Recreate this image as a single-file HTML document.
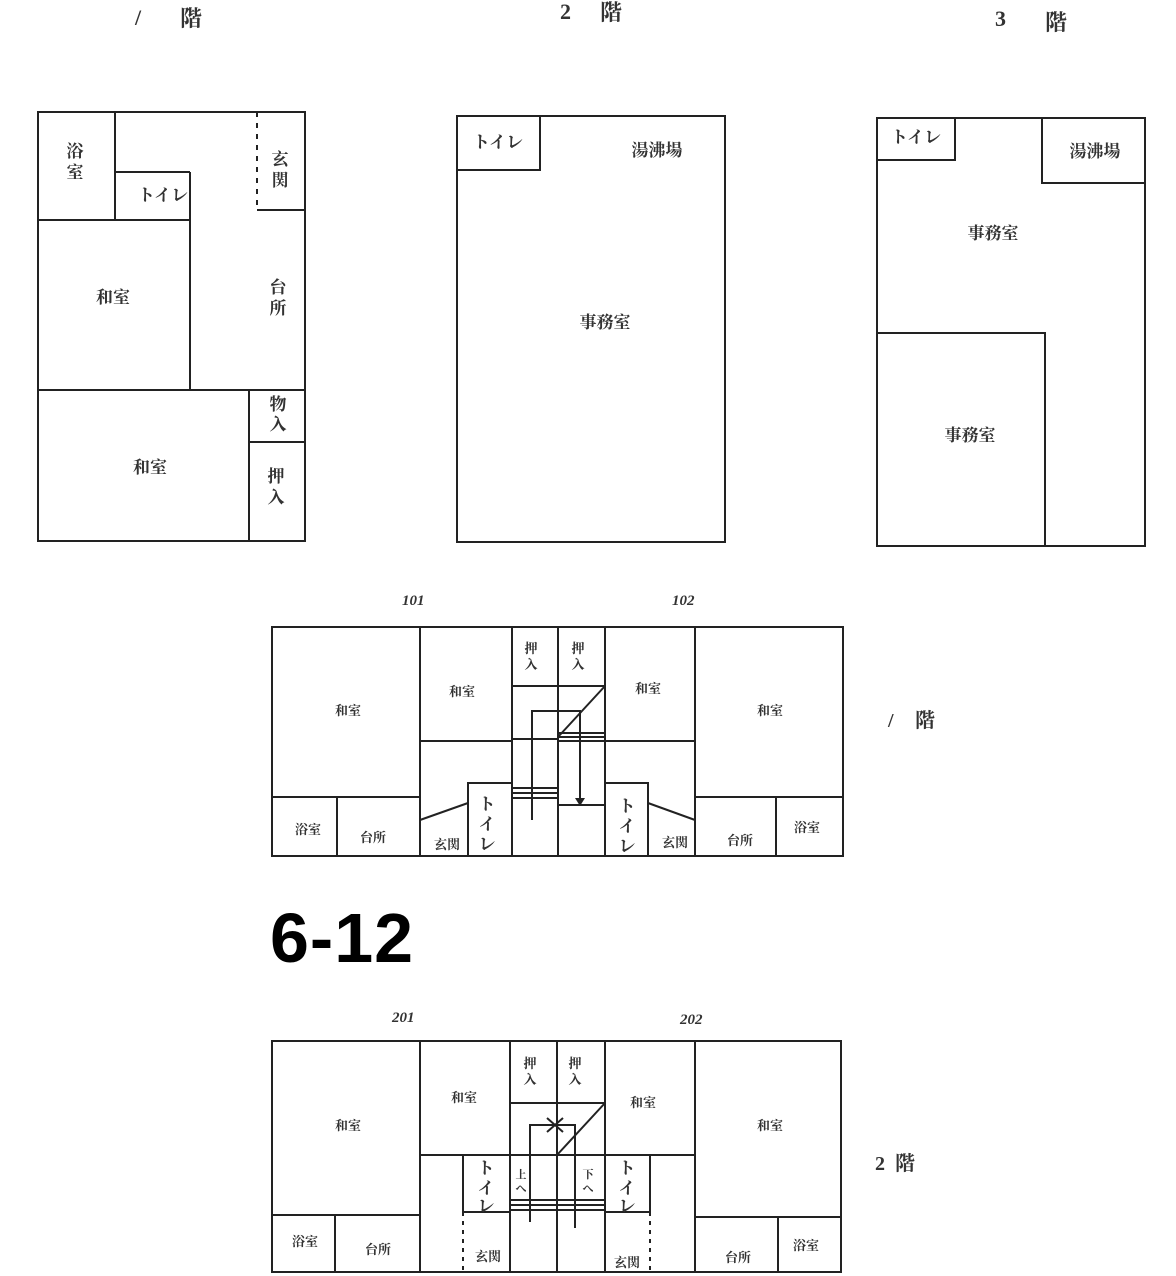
<!DOCTYPE html>
<html><head><meta charset="utf-8"><style>
html,body{margin:0;padding:0;background:#fff}
svg{display:block}
text{font-family:"Liberation Serif","Noto Serif CJK SC","Noto Sans CJK JP",serif;fill:#333;font-weight:bold}
</style></head><body>
<svg width="1176" height="1276" viewBox="0 0 1176 1276" xmlns="http://www.w3.org/2000/svg">
<g stroke="#222" stroke-width="2" fill="none">
<rect x="38" y="112" width="267" height="429"/>
<line x1="115" y1="112" x2="115" y2="220"/>
<line x1="38" y1="220" x2="190" y2="220"/>
<line x1="115" y1="172" x2="190" y2="172"/>
<line x1="190" y1="172" x2="190" y2="390"/>
<line x1="257" y1="112" x2="257" y2="210" stroke-dasharray="5,6"/>
<line x1="257" y1="210" x2="305" y2="210"/>
<line x1="38" y1="390" x2="305" y2="390"/>
<line x1="249" y1="390" x2="249" y2="541"/>
<line x1="249" y1="442" x2="305" y2="442"/>
<rect x="457" y="116" width="268" height="426"/>
<rect x="457" y="116" width="83" height="54"/>
<rect x="877" y="118" width="268" height="428"/>
<rect x="877" y="118" width="78" height="42"/>
<rect x="1042" y="118" width="103" height="65"/>
<polyline points="877,333 1045,333 1045,546"/>
<rect x="272" y="627" width="571" height="229"/>
<line x1="420" y1="627" x2="420" y2="856"/>
<line x1="512" y1="627" x2="512" y2="856"/>
<line x1="558" y1="627" x2="558" y2="856"/>
<line x1="605" y1="627" x2="605" y2="856"/>
<line x1="695" y1="627" x2="695" y2="856"/>
<line x1="272" y1="797" x2="420" y2="797"/>
<line x1="337" y1="797" x2="337" y2="856"/>
<line x1="420" y1="741" x2="512" y2="741"/>
<line x1="512" y1="686" x2="605" y2="686"/>
<line x1="512" y1="739" x2="558" y2="739"/>
<line x1="558" y1="733" x2="605" y2="733"/>
<line x1="558" y1="737" x2="605" y2="737"/>
<line x1="558" y1="741" x2="605" y2="741"/>
<line x1="605" y1="686" x2="558" y2="737"/>
<polyline points="532,820 532,711 580,711 580,800"/>
<line x1="512" y1="788" x2="558" y2="788"/>
<line x1="512" y1="793" x2="558" y2="793"/>
<line x1="512" y1="798" x2="558" y2="798"/>
<line x1="558" y1="805" x2="605" y2="805"/>
<polyline points="468,856 468,783 512,783"/>
<line x1="420" y1="820" x2="468" y2="803"/>
<line x1="605" y1="741" x2="695" y2="741"/>
<polyline points="648,856 648,783 605,783"/>
<line x1="648" y1="803" x2="695" y2="820"/>
<line x1="695" y1="797" x2="843" y2="797"/>
<line x1="776" y1="797" x2="776" y2="856"/>
<rect x="272" y="1041" width="569" height="231"/>
<line x1="420" y1="1041" x2="420" y2="1272"/>
<line x1="510" y1="1041" x2="510" y2="1272"/>
<line x1="557" y1="1041" x2="557" y2="1272"/>
<line x1="605" y1="1041" x2="605" y2="1272"/>
<line x1="695" y1="1041" x2="695" y2="1272"/>
<line x1="272" y1="1215" x2="420" y2="1215"/>
<line x1="335" y1="1215" x2="335" y2="1272"/>
<line x1="420" y1="1155" x2="510" y2="1155"/>
<line x1="510" y1="1103" x2="605" y2="1103"/>
<line x1="510" y1="1155" x2="605" y2="1155"/>
<line x1="605" y1="1103" x2="557" y2="1155"/>
<polyline points="530,1222 530,1125 575,1125 575,1228"/>
<line x1="547" y1="1118" x2="563" y2="1132"/>
<line x1="547" y1="1132" x2="563" y2="1118"/>
<line x1="510" y1="1200" x2="605" y2="1200"/>
<line x1="510" y1="1205" x2="605" y2="1205"/>
<line x1="510" y1="1210" x2="605" y2="1210"/>
<polyline points="463,1212 463,1155 510,1155"/>
<line x1="463" y1="1212" x2="510" y2="1212"/>
<line x1="463" y1="1212" x2="463" y2="1272" stroke-dasharray="4,5"/>
<line x1="605" y1="1155" x2="695" y2="1155"/>
<line x1="650" y1="1155" x2="650" y2="1212"/>
<line x1="605" y1="1212" x2="650" y2="1212"/>
<line x1="650" y1="1212" x2="650" y2="1272" stroke-dasharray="4,5"/>
<line x1="695" y1="1217" x2="841" y2="1217"/>
<line x1="778" y1="1217" x2="778" y2="1272"/>
</g>
<polygon points="575,798 585,798 580,806" fill="#222"/>
<g font-size="22">
<text x="135" y="25" font-weight="normal">/</text><text x="180" y="26">階</text>
<text x="560" y="19" font-weight="normal">2</text><text x="600" y="20">階</text>
<text x="995" y="26" font-weight="normal">3</text><text x="1045" y="30">階</text>
</g>
<g font-size="15" font-style="italic" font-weight="normal">
<text x="402" y="605">101</text><text x="672" y="605">102</text>
<text x="392" y="1022">201</text><text x="680" y="1024">202</text>
</g>
<g font-size="20"><text x="888" y="727" font-weight="normal">/</text><text x="915" y="727">階</text>
<text x="875" y="1170" font-weight="normal">2</text><text x="895" y="1170">階</text></g>
<text x="270" y="962" font-size="70" letter-spacing="1" style="font-family:'Liberation Sans','Noto Sans CJK JP',sans-serif;fill:#000">6-12</text>
<g font-size="17" text-anchor="middle">
<text x="75" y="157">浴</text><text x="75" y="178">室</text>
<text x="163" y="201">トイレ</text>
<text x="280" y="165">玄</text><text x="280" y="186">関</text>
<text x="113" y="303">和室</text>
<text x="278" y="293">台</text><text x="278" y="314">所</text>
<text x="150" y="473">和室</text>
<text x="278" y="410">物</text><text x="278" y="430">入</text>
<text x="276" y="482">押</text><text x="276" y="503">入</text>
<text x="498" y="148">トイレ</text>
<text x="657" y="156">湯沸場</text>
<text x="605" y="328">事務室</text>
<text x="916" y="143">トイレ</text>
<text x="1095" y="157">湯沸場</text>
<text x="993" y="239">事務室</text>
<text x="970" y="441">事務室</text>
</g>
<g font-size="13" text-anchor="middle">
<text x="348" y="715">和室</text><text x="462" y="696">和室</text><text x="648" y="693">和室</text><text x="770" y="715">和室</text>
<text x="531" y="653">押</text><text x="531" y="669">入</text><text x="578" y="653">押</text><text x="578" y="669">入</text>
<text x="308" y="834">浴室</text><text x="373" y="842">台所</text><text x="447" y="849">玄関</text>
<text x="675" y="847">玄関</text><text x="740" y="845">台所</text><text x="807" y="832">浴室</text>
<text x="348" y="1130">和室</text><text x="464" y="1102">和室</text><text x="643" y="1107">和室</text><text x="770" y="1130">和室</text>
<text x="530" y="1068">押</text><text x="530" y="1084">入</text><text x="575" y="1068">押</text><text x="575" y="1084">入</text>
<text x="305" y="1246">浴室</text><text x="378" y="1254">台所</text><text x="488" y="1261">玄関</text>
<text x="627" y="1267">玄関</text><text x="738" y="1262">台所</text><text x="806" y="1250">浴室</text>
<text x="521" y="1178" font-size="11">上</text><text x="521" y="1192" font-size="11">へ</text>
<text x="588" y="1178" font-size="11">下</text><text x="588" y="1192" font-size="11">へ</text>
</g>
<g font-size="17" text-anchor="middle">
<text x="487" y="810">ト</text><text x="487" y="830">イ</text><text x="487" y="850">レ</text>
<text x="627" y="812">ト</text><text x="627" y="832">イ</text><text x="627" y="852">レ</text>
<text x="486" y="1174">ト</text><text x="486" y="1194">イ</text><text x="486" y="1212">レ</text>
<text x="627" y="1174">ト</text><text x="627" y="1194">イ</text><text x="627" y="1212">レ</text>
</g>
</svg>
</body></html>
